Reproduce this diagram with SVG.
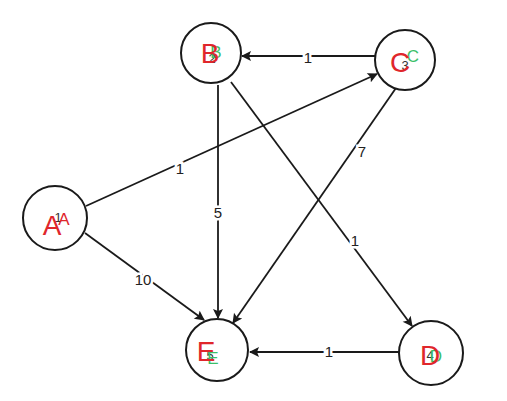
<svg xmlns="http://www.w3.org/2000/svg" width="507" height="401" viewBox="0 0 507 401">
<defs>
<marker id="arr" viewBox="0 0 10 10" refX="9" refY="5" markerWidth="12" markerHeight="10" orient="auto" markerUnits="userSpaceOnUse">
<path d="M0,0 L10,5 L0,10 L2,5 z" fill="#1a1a1a"/>
</marker>
<style>
.n{fill:#fff;stroke:#1a1a1a;stroke-width:2}
.e{stroke:#1a1a1a;stroke-width:1.8;fill:none;marker-end:url(#arr)}
.big{font-family:"Liberation Sans",Arial,sans-serif;font-size:28px;fill:#e0262b;text-anchor:middle}
.sm{font-family:"Liberation Sans",Arial,sans-serif;font-size:17px;fill:#3bbf6a;text-anchor:middle}
.d{font-family:"Liberation Sans",Arial,sans-serif;font-size:13px;fill:#333;text-anchor:middle}
.l{font-family:"Liberation Sans",Arial,sans-serif;font-size:15px;fill:#222;text-anchor:middle;stroke:#fff;stroke-width:5px;paint-order:stroke}
</style>
</defs>
<rect width="507" height="401" fill="#fff"/>
<g id="edges">
<path class="e" d="M375,56 L242,56"/>
<path class="e" d="M86,206 L377,74"/>
<path class="e" d="M218,85 L218,318"/>
<path class="e" d="M231,82 L412,326"/>
<path class="e" d="M396,88 L233,323"/>
<path class="e" d="M85,233 L204,320"/>
<path class="e" d="M399,352 L250,352"/>
<text class="l" x="308" y="63">1</text>
<text class="l" x="180" y="174">1</text>
<text class="l" x="218" y="218">5</text>
<text class="l" x="355" y="246">1</text>
<text class="l" x="362" y="157">7</text>
<text class="l" x="143" y="285">10</text>
<text class="l" x="329" y="357">1</text>
</g>
<g id="node-B">
<circle class="n" cx="211" cy="53" r="30"/>
<text class="d" x="212" y="63">2</text>
<text class="sm" x="216" y="58">B</text>
<text class="big" x="210" y="63">B</text>
</g>
<g id="node-C">
<circle class="n" cx="405" cy="60" r="30"/>
<text class="d" x="405" y="70">3</text>
<text class="sm" x="413" y="62">C</text>
<text class="big" x="400" y="72">C</text>
</g>
<g id="node-A">
<circle class="n" cx="55" cy="218" r="32"/>
<text class="d" x="58" y="222">1</text>
<text class="big" x="52" y="235">A</text>
<text class="sm" x="64" y="225" style="fill:#e0262b">A</text>
</g>
<g id="node-E">
<circle class="n" cx="217" cy="350" r="31"/>
<text class="d" x="210" y="360">5</text>
<text class="sm" x="213" y="364">E</text>
<text class="big" x="206" y="361">E</text>
</g>
<g id="node-D">
<circle class="n" cx="431" cy="353" r="32"/>
<text class="d" x="430" y="360">4</text>
<text class="sm" x="436" y="362">D</text>
<text class="big" x="430" y="365">D</text>
</g>
</svg>
